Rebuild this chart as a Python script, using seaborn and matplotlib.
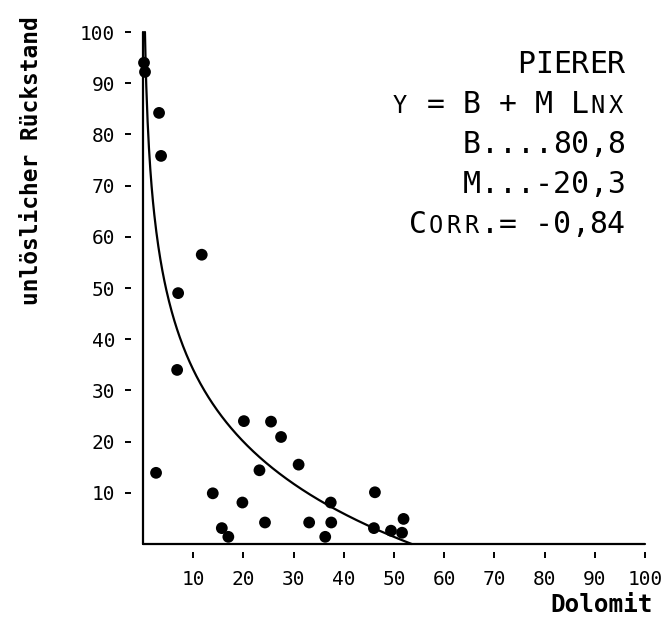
import numpy as np
import pandas as pd
import matplotlib
matplotlib.use("Agg")
import matplotlib.pyplot as plt
import seaborn as sns

# ── DATA ─────────────────────────────────────────────────────────────────────
dolomit    = [0.2, 0.4, 3.2, 3.6, 11.7, 7.0, 6.8, 2.6, 13.9, 20.1, 25.5, 27.5,
              31.0, 23.2, 19.8, 15.7, 17.0, 24.3, 33.1, 36.3, 37.4, 37.5,
              46.2, 46.0, 49.4, 51.6, 51.9]
rueckstand = [94.0, 92.2, 84.2, 75.8, 56.5, 49.0, 34.0, 13.9, 9.9, 24.0, 23.9,
              20.9, 15.5, 14.4, 8.1, 3.1, 1.4, 4.2, 4.2, 1.4, 8.1, 4.2,
              10.1, 3.1, 2.6, 2.2, 4.9]
B, M = 80.8, -20.3          # Regression y = B + M ln x
x_ticks = [10, 20, 30, 40, 50, 60, 70, 80, 90, 100]
y_ticks = [10, 20, 30, 40, 50, 60, 70, 80, 90, 100]

# Textblock: (Zeichen, klein?) – Kapitälchen wie im Original
text_lines = [
    [("PIERER", False)],
    [("Y", True), (" = B + M L", False), ("NX", True)],
    [("B....80,8", False)],
    [("M...-20,3", False)],
    [("C", False), ("ORR", True), (".= -0,84", False)],
]

df = pd.DataFrame({"Dolomit": dolomit, "Rueckstand": rueckstand})
x_fit = np.linspace(np.exp((100 - B) / M), np.exp(-B / M), 400)
fit = pd.DataFrame({"x": x_fit, "y": B + M * np.log(x_fit)})

# ── PLOT ─────────────────────────────────────────────────────────────────────
sns.set_style("white")
MONO = "DejaVu Sans Mono"
plt.rcParams["font.family"] = MONO
plt.rcParams["text.color"] = "black"
plt.rcParams["xtick.color"] = "black"
plt.rcParams["ytick.color"] = "black"

W, H = 667, 635
fig = plt.figure(figsize=(W / 100, H / 100), dpi=100)
ax = fig.add_axes([143 / W, 1 - 544 / H, (645 - 143) / W, (544 - 32) / H])

sns.lineplot(data=fit, x="x", y="y", ax=ax, color="black", lw=1.6,
             clip_on=False)
sns.scatterplot(data=df, x="Dolomit", y="Rueckstand", ax=ax, color="black",
                s=72, edgecolor="none", clip_on=False, zorder=3)

ax.set_xlim(0, 100)
ax.set_ylim(0, 100)
ax.axhline(0, color="black", lw=1.6, clip_on=False)
ax.axvline(0, color="black", lw=1.6, clip_on=False)

# Ticks mit Abstand zur Achse: Spines verschoben, aber unsichtbar
ax.spines["left"].set_position(("outward", 8.5))
ax.spines["bottom"].set_position(("outward", 6))
for s in ax.spines.values():
    s.set_visible(False)

ax.set_xticks(x_ticks)
ax.set_yticks(y_ticks)
ax.tick_params(axis="both", direction="out", length=4.5, width=1.4,
               color="black", labelsize=14, labelcolor="black")
ax.tick_params(axis="x", pad=8, bottom=True)
ax.tick_params(axis="y", pad=7, left=True)
ax.set_xlabel("")
ax.set_ylabel("")

fig.text(653 / W, 1 - 612 / H, "Dolomit", ha="right", va="baseline",
         fontsize=17.5, fontweight="bold")
fig.text(32 / W, 1 - 161 / H, "unlöslicher Rückstand", rotation=90,
         ha="center", va="center", fontsize=16.5, fontweight="bold")

# Textblock auf festem Schreibmaschinen-Raster
pitch = 18.0
right = 625.0
baselines = [73, 113, 153, 193, 233]
for parts, base in zip(text_lines, baselines):
    chars = [(c, small) for txt, small in parts for c in txt]
    n = len(chars)
    for i, (c, small) in enumerate(chars):
        if c == " ":
            continue
        xc = right - (n - i - 0.5) * pitch
        fig.text(xc / W, 1 - base / H, c, ha="center", va="baseline",
                 fontsize=17 if small else 21.5, family=MONO)

plt.savefig("out.png", dpi=100)
plt.close()
